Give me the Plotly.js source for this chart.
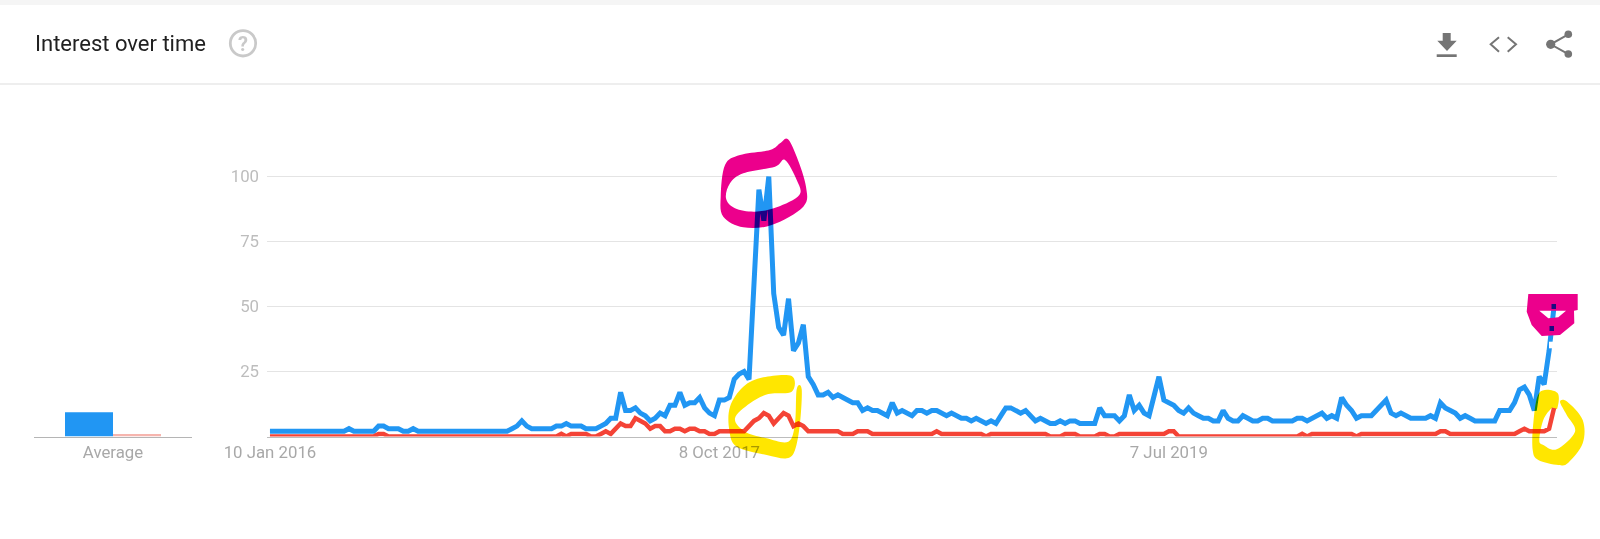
<!DOCTYPE html>
<html>
<head>
<meta charset="utf-8">
<script src="https://cdn.plot.ly/plotly-3.0.1.min.js"></script>
<style>html,body{margin:0;padding:0;background:#fff}#chart{width:1600px;height:539px}</style>
</head>
<body>
<div id="chart"></div>
<script>
const tickWeeks = [0, 91, 182];
const tickLabels = ["10 Jan 2016", "8 Oct 2017", "7 Jul 2019"];
const yTicks = [25, 50, 75, 100];
const blueSeries = [
  2,2,2,2,2,2,2,2,2,2,
  2,2,2,2,2,2,3,2,2,2,
  2,2,4,4,3,3,3,2,2,3,
  2,2,2,2,2,2,2,2,2,2,
  2,2,2,2,2,2,2,2,2,3,
  4,6,4,3,3,3,3,3,4,4,
  5,4,4,4,3,3,3,4,5,7,
  7,17,10,10,11,9,8,6,7,9,
  8,12,12,17,12,13,13,15,11,9,
  8,14,14,15,22,24,25,22,58,95,
  83,100,55,42,39,53,33,36,43,23,
  20,16,16,17,15,16,15,14,13,13,
  10,11,10,10,9,8,13,9,10,9,
  8,10,10,9,10,10,9,8,9,8,
  7,7,6,7,6,5,6,5,8,11,
  11,10,9,10,8,6,7,6,5,5,
  6,5,6,6,5,5,5,5,11,8,
  8,8,6,8,16,10,12,9,8,15,
  23,14,13,12,10,9,11,9,8,7,
  7,6,6,10,7,6,6,8,7,6,
  6,7,7,6,6,6,6,6,7,7,
  6,7,8,9,7,8,7,15,12,10,
  7,8,8,8,10,12,14,9,8,9,
  8,7,7,7,7,8,7,13,11,10,
  9,7,8,7,6,6,6,6,6,10,
  10,10,13,18,19,16,10,23,20,33,50
];
const redSeries = [
  0,0,0,0,0,0,0,0,0,0,
  0,0,0,0,0,0,0,0,0,0,
  0,0,1,1,0,0,0,0,0,0,
  0,0,0,0,0,0,0,0,0,0,
  0,0,0,0,0,0,0,0,0,0,
  0,0,0,0,0,0,0,0,0,1,
  0,1,1,1,1,0,0,1,2,1,
  3,5,4,4,7,6,5,3,4,4,
  2,2,3,3,2,3,3,2,2,1,
  1,2,2,2,2,2,2,4,6,7,
  9,8,5,7,9,8,4,5,4,2,
  2,2,2,2,2,2,1,1,1,2,
  2,2,1,1,1,1,1,1,1,1,
  1,1,1,1,1,2,1,1,1,1,
  1,1,1,1,1,0,1,1,1,1,
  1,1,1,1,1,1,1,1,0,0,
  0,1,1,1,0,0,0,0,1,1,
  0,0,1,1,1,1,1,1,1,1,
  1,1,2,2,0,0,0,0,0,0,
  0,0,0,0,0,0,0,0,0,0,
  0,0,0,0,0,0,0,0,0,1,
  0,1,1,1,1,1,1,1,1,1,
  0,1,1,1,1,1,1,1,1,1,
  1,1,1,1,1,1,1,2,2,1,
  1,1,1,1,1,1,1,1,1,1,
  1,1,1,2,3,2,2,2,2,3,11
];
const averageValues = [9.3, 1];
const weeks = blueSeries.map((_, i) => i);

const W = 1600, H = 539;
const BLUE = "#2196F3", RED = "#F44336", PINK = "#EC008C", YELLOW = "#FFE600";
const fx = x => (x / W).toFixed(5);
const fy = y => (1 - y / H).toFixed(5);
const pt = p => fx(p[0]) + "," + fy(p[1]);
const poly = pts => "M" + pts.map(pt).join(" L") + " Z";
// closed Catmull-Rom outline for the hand-drawn strokes (paper fractions)
function ring(pts) {
  const n = pts.length;
  let d = "M" + pt(pts[0]);
  for (let i = 0; i < n; i++) {
    const p0 = pts[(i - 1 + n) % n], p1 = pts[i], p2 = pts[(i + 1) % n], p3 = pts[(i + 2) % n];
    const c1 = [p1[0] + (p2[0] - p0[0]) / 6, p1[1] + (p2[1] - p0[1]) / 6];
    const c2 = [p2[0] - (p3[0] - p1[0]) / 6, p2[1] - (p3[1] - p1[1]) / 6];
    d += " C" + pt(c1) + " " + pt(c2) + " " + pt(p2);
  }
  return d + " Z";
}

const shapes = [], blend = [];
function add(s, multiply) {
  shapes.push(Object.assign({xref: "paper", yref: "paper", layer: "above", line: {width: 0}}, s));
  blend.push(!!multiply);
}
const pathShape = (d, color, multiply) => add({type: "path", path: d, fillcolor: color}, multiply);
const rect = (x0, y0, x1, y1, color) => add({type: "rect", x0: x0 / W, x1: x1 / W, y0: 1 - y1 / H, y1: 1 - y0 / H, fillcolor: color});
const circle = (cx, cy, r, fill, stroke, sw) => add({type: "circle", x0: (cx - r) / W, x1: (cx + r) / W, y0: 1 - (cy + r) / H, y1: 1 - (cy - r) / H, fillcolor: fill, line: {color: stroke || fill, width: sw || 0}});
const stroke = (pts, color, width) => add({type: "path", path: "M" + pts.map(pt).join(" L"), line: {color: color, width: width}});

// header
rect(0, 0, 1600, 5, "#f5f5f5");
rect(0, 83.2, 1600, 84.8, "#e8e8e8");
circle(243, 43.3, 12.7, "rgba(0,0,0,0)", "#c9c9c9", 2.8);
// download
pathShape(poly([[1442.7,33],[1450.7,33],[1450.7,40.7],[1456.7,40.7],[1447,51],[1437.3,40.7],[1442.7,40.7]]), "#757575");
rect(1436.7, 54.3, 1456.7, 57, "#757575");
// code
stroke([[1499,37.3],[1490.7,44.3],[1499,51.7]], "#757575", 2);
stroke([[1507.7,37.3],[1516,44.3],[1507.7,51.7]], "#757575", 2);
// share
stroke([[1568.3,34.3],[1550.7,44.3],[1568.3,54]], "#757575", 2);
circle(1568.3, 34.3, 3.8, "#757575");
circle(1550.7, 44.3, 4.6, "#757575");
circle(1568.3, 54, 3.8, "#757575");

// pink scribble around the peak
pathShape(
  ring([[787.7,139],[780,143.3],[770,150],[740,155],[725,165],[720.7,196.7],[723.3,216.7],[743.3,227.3],[771.7,225],[803.3,206.7],[806,186.7],[796.7,156.7]]) + " " +
  ring([[785,160],[796.7,180],[799.3,195],[776.7,207.3],[755,211.7],[735,208.3],[726,198.3],[730,183.3],[743.3,173.3],[775,166.7]]),
  PINK, true);
// yellow scribble around the red peak
pathShape(ring([[791.7,376],[763.3,377.3],[743.3,386.7],[730,406.7],[729.3,430],[736.7,446.7],[766.7,455],[786.7,458.3],[795,450],[800,423.3],[801.7,389.3],[796.7,389.3],[795,423.3],[788.3,441.7],[766.7,438.3],[745,431.7],[735,418.3],[750,403.3],[768.3,394],[791.7,391.7]]), YELLOW, true);
// yellow scribble at the right end
pathShape(ring([[1539.3,392.7],[1557.3,392.7],[1557.3,408.3],[1551.7,408.3],[1543.3,420],[1539.3,440],[1543.3,445],[1556.7,449.3],[1575,431.7],[1566.7,415],[1560,401.7],[1567.3,401.7],[1582.7,420],[1582.7,443.3],[1568.3,462.7],[1558.3,465],[1538.3,460],[1532.7,450],[1533.3,423.3]]), YELLOW, true);
// pink scribble at the right end
rect(1549, 341.7, 1554, 348.3, "#ffffff");
pathShape(
  poly([[1528.3,294],[1577.7,294],[1577.7,310],[1574,310.7],[1574.3,323.3],[1560,335],[1541.7,336],[1531.7,325],[1526.7,311.7]]) + " " +
  poly([[1539.3,310.7],[1548.3,318.3],[1558.3,317.3],[1566,310.7]]),
  PINK, false);
rect(1551.5, 304, 1556, 309, "#1a0a80");
rect(1549.5, 326, 1554, 331, "#1a0a80");

const yDomain = [1 - 436.5 / H, 1 - 137 / H];
const yRange = [0, 115.2];
const xTickFont = {family: "Roboto, sans-serif", size: 16.8, color: "#a8a8a8"};
const yTickFont = {family: "Roboto, sans-serif", size: 16.8, color: "#bdbdbd"};

const traces = [
  {type: "scatter", mode: "lines", x: weeks, y: blueSeries, xaxis: "x", yaxis: "y", cliponaxis: false,
   line: {color: BLUE, width: 5, shape: "linear"}, hoverinfo: "skip", name: "Blue"},
  {type: "scatter", mode: "lines", x: weeks, y: redSeries, xaxis: "x", yaxis: "y", cliponaxis: false,
   line: {color: RED, width: 4.5, shape: "linear"}, hoverinfo: "skip", name: "Red"},
  {type: "bar", x: [0, 1], y: averageValues, width: [1, 1], xaxis: "x2", yaxis: "y2",
   marker: {color: [BLUE, "#f6b5ae"], line: {width: 0}}, hoverinfo: "skip"}
];
const layout = {
  width: W, height: H,
  margin: {l: 0, r: 0, t: 0, b: 0, pad: 0},
  paper_bgcolor: "#ffffff", plot_bgcolor: "rgba(0,0,0,0)",
  showlegend: false,
  xaxis: {domain: [267 / W, 1557 / W], range: [-0.6, 260.6], tickmode: "array", tickvals: tickWeeks, ticktext: tickLabels,
    showgrid: false, zeroline: false, showline: true, linecolor: "#bdbdbd", linewidth: 1.5, ticks: "", tickfont: xTickFont, anchor: "y", automargin: false},
  yaxis: {domain: yDomain, range: yRange, tickmode: "array", tickvals: yTicks, showgrid: true, gridcolor: "#e4e4e4", gridwidth: 1.5,
    zeroline: false, showline: false, ticks: "", tickfont: yTickFont, ticklabelstandoff: 7, anchor: "x", automargin: false},
  xaxis2: {domain: [34 / W, 192 / W], range: [-1.146, 2.146], tickmode: "array", tickvals: [0.5], ticktext: ["Average"],
    showgrid: false, zeroline: false, showline: true, linecolor: "#b5b5b5", linewidth: 1.5, ticks: "", tickfont: xTickFont, anchor: "y2", automargin: false},
  yaxis2: {domain: yDomain, range: yRange, visible: false, anchor: "x2"},
  shapes: shapes,
  annotations: [
    {xref: "paper", yref: "paper", x: 33 / W, y: 1 - 44 / H, xanchor: "left", yanchor: "middle", showarrow: false,
     text: "Interest over time", font: {family: "Roboto, sans-serif", size: 22, color: "#212121"}},
    {xref: "paper", yref: "paper", x: 243 / W, y: 1 - 43.5 / H, xanchor: "center", yanchor: "middle", showarrow: false,
     text: "<b>?</b>", font: {family: "Roboto, sans-serif", size: 20, color: "#c9c9c9"}}
  ]
};
Plotly.newPlot("chart", traces, layout, {displayModeBar: false, staticPlot: true}).then(() => {
  const paths = document.querySelectorAll(".layer-above .shapelayer path");
  paths.forEach((p, i) => { if (blend[i]) p.style.mixBlendMode = "multiply"; });
});
</script>
</body>
</html>
